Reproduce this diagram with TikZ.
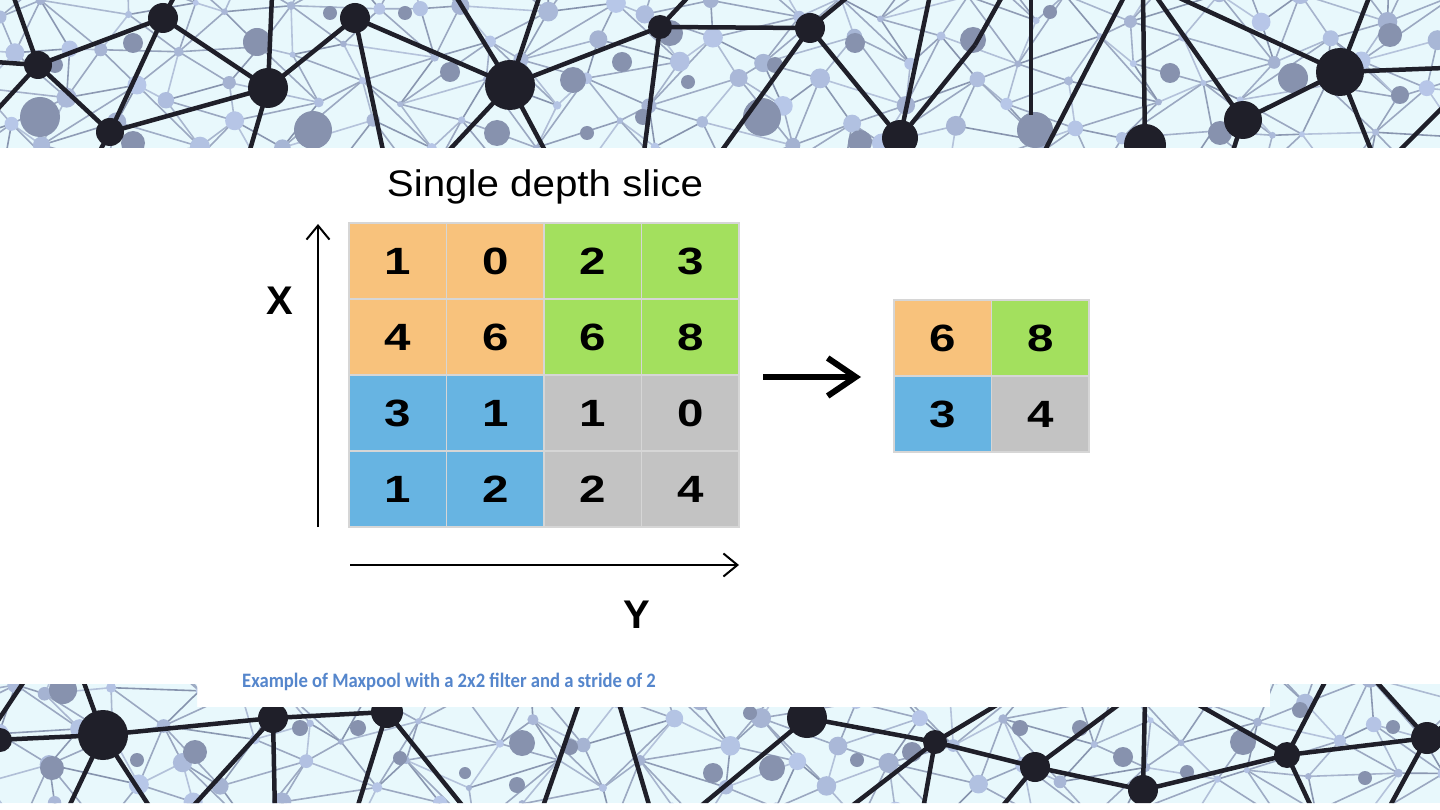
\documentclass[tikz,border=0pt]{standalone}
\usepackage{fontspec}
\setmainfont{Liberation Sans}
\newfontfamily\digitfont[FakeStretch=1.25]{Liberation Sans}
\newfontfamily\titlefont[FakeStretch=1.09]{Liberation Sans}
\newfontfamily\capfont[FakeStretch=0.91]{Carlito}
\usetikzlibrary{arrows.meta}
\definecolor{bandbg}{HTML}{E8F8FC}
\definecolor{glight}{HTML}{B8C6DE}
\definecolor{gdark}{HTML}{8390AA}
\definecolor{lightn}{HTML}{B7C7E8}
\definecolor{midn}{HTML}{8792AE}
\definecolor{darkn}{HTML}{1F1F29}
\definecolor{cor}{HTML}{F8C27C}
\definecolor{cgr}{HTML}{A3E05E}
\definecolor{cbl}{HTML}{67B4E2}
\definecolor{cgy}{HTML}{C3C3C3}
\definecolor{cellline}{HTML}{D6D6D6}
\definecolor{capblue}{HTML}{5586CC}
\newcommand{\netmesh}[2]{%
  \foreach \i in {-1,...,24}{
    \foreach \j in {-1,...,3}{
      \pgfmathsetmacro\ax{\i*60+jx(\i+#2,\j)}
      \pgfmathsetmacro\ay{#1+\j*42+jy(\i+#2,\j)}
      \pgfmathsetmacro\bx{(\i+1)*60+jx(\i+1+#2,\j)}
      \pgfmathsetmacro\by{#1+\j*42+jy(\i+1+#2,\j)}
      \pgfmathsetmacro\cx{\i*60+jx(\i+#2,\j+1)}
      \pgfmathsetmacro\cy{#1+(\j+1)*42+jy(\i+#2,\j+1)}
      \pgfmathsetmacro\dx{(\i+1)*60+jx(\i+1+#2,\j+1)}
      \pgfmathsetmacro\dy{#1+(\j+1)*42+jy(\i+1+#2,\j+1)}
      \pgfmathtruncatemacro\sa{50+45*sin(\i*211.3+\j*97.1+#2*13)}
      \pgfmathtruncatemacro\sb{50+45*sin(\i*123.7+\j*277.1+#2*29)}
      \pgfmathtruncatemacro\pick{sin(\i*77.7+\j*133.3+#2*7)>0 ? 1 : 0}
      \draw[gline, draw=gdark!\sa!glight] (\ax,\ay) -- (\bx,\by);
      \draw[gline, draw=gdark!\sb!glight] (\ax,\ay) -- (\cx,\cy);
      \ifnum\pick=1
        \draw[gline] (\ax,\ay) -- (\dx,\dy);
      \else
        \draw[gline] (\bx,\by) -- (\cx,\cy);
      \fi
    }
  }
  \foreach \i in {-1,...,24}{
    \foreach \j in {-1,...,3}{
      \pgfmathsetmacro\ax{\i*60+jx(\i+#2,\j)}
      \pgfmathsetmacro\ay{#1+\j*42+jy(\i+#2,\j)}
      \pgfmathsetmacro\rr{3+3.5*(1+sin(\i*331.7+\j*57.3+#2*11))}
      \pgfmathtruncatemacro\sc{20*(1+sin(\i*97.7+\j*211.3+#2*5))}
      \fill[midn!\sc!lightn] (\ax,\ay) circle[radius=\rr*1pt];
    }
  }
}
\begin{document}
\begin{tikzpicture}[x=1pt,y=-1pt,
  declare function={jx(\a,\b)=20*sin(\a*257.3+\b*491.7); jy(\a,\b)=14*sin(\a*173.9+\b*331.1+40);},
  gline/.style={line width=1.6pt, draw=gdark!55!glight},
  dline/.style={line width=4.5pt, draw=darkn},
  cell/.style={draw=cellline, line width=1.2pt, minimum width=97.5pt, minimum height=76pt,
    inner sep=0pt, anchor=center, font={\digitfont\bfseries\fontsize{38}{38}\selectfont}},
  axis/.style={line width=2pt, -{Straight Barb[length=14pt,width=23pt,line width=2pt]}},
  bigarrow/.style={line width=6pt, -{Straight Barb[length=28pt,width=38pt,line width=6pt]}},
  axlabel/.style={inner sep=0pt, anchor=base, font={\bfseries\fontsize{40}{40}\selectfont}}]
\useasboundingbox (0,0) rectangle (1440,810);
\fill[white] (0,0) rectangle (1440,810);
% ---------- top band ----------
\begin{scope}
  \clip (0,0) rectangle (1440,148);
  \fill[bandbg] (0,0) rectangle (1440,148);
  \netmesh{8}{0}
  \foreach \x/\y/\r in {40/117/20, 313/130/19, 133/43/10, 257/42/14, 133/143/12, 450/72/10,
    405/13/7, 330/13/7, 497/133/13, 573/80/13, 670/33/13, 622/62/10, 762/117/19, 855/43/10,
    775/65/8, 688/82/7, 643/117/8, 587/133/7, 860/142/12, 973/40/13, 1035/130/18, 1293/78/15,
    1390/35/12, 1170/73/10, 1220/133/12, 1050/12/7, 55/65/8, 1400/95/9}
    \fill[midn] (\x,\y) circle[radius=\r*1pt];
  \foreach \a/\b/\c/\d in {-5/62/38/65, 13/-5/38/65, 38/65/-5/112, 38/65/163/18, 38/65/110/132,
    163/18/268/88, 163/18/175/-5, 110/132/268/88, 110/132/163/18, 110/132/95/160,
    268/88/247/160, 268/88/272/-5, 268/88/355/18, 355/18/385/160, 355/18/510/85,
    455/-5/510/85, 510/85/440/160, 510/85/540/-5, 510/85/660/27, 510/85/550/160,
    660/27/690/-5, 660/27/810/28, 660/27/643/160, 810/28/850/-5, 810/28/900/138,
    810/28/715/160, 900/138/930/-5, 900/138/975/45, 1003/-5/975/45, 1031/-5/1031/115,
    1143/-5/1145/145, 1040/160/1125/-5, 1155/-5/1243/120, 1173/-5/1340/72,
    1340/72/1370/-5, 1340/72/1445/68, 1340/72/1243/120, 1340/72/1375/160,
    1445/105/1390/160, 1243/120/1230/160}
    \draw[dline] (\a,\b) -- (\c,\d);
  \foreach \x/\y/\r in {38/65/14, 163/18/15, 110/132/14, 268/88/20, 355/18/15, 510/85/25,
    660/27/12, 810/28/15, 900/138/18, 1145/145/21, 1243/120/19, 1340/72/24}
    \fill[darkn] (\x,\y) circle[radius=\r*1pt];
\end{scope}
% ---------- bottom band ----------
\begin{scope}
  \clip (0,684) -- (197,684) -- (197,707) -- (1270,707) -- (1270,684) -- (1440,684)
    -- (1440,803) -- (0,803) -- cycle;
  \fill[bandbg] (0,684) rectangle (1440,803);
  \netmesh{690}{3}
  \foreach \x/\y/\r in {52/768/12, 195/752/12, 63/690/14, 300/728/8, 358/728/8, 137/760/7,
    522/743/13, 570/747/8, 400/758/7, 517/785/8, 465/773/6, 713/773/10, 772/768/13,
    912/752/10, 715/772/7, 857/760/7, 1020/728/8, 1080/728/8, 750/713/7, 1123/757/10,
    1243/742/13, 1365/778/7, 1393/727/7, 1300/710/8, 1187/772/7}
    \fill[midn] (\x,\y) circle[radius=\r*1pt];
  \foreach \a/\b/\c/\d in {-5/740/103/735, 103/735/273/718, 273/718/387/712, 103/735/83/680,
    103/735/155/815, 103/735/65/815, 25/680/-5/725, 273/718/275/815, 273/718/185/815,
    387/712/355/815, 387/712/470/815, 580/700/540/815, 618/700/652/815,
    807/718/935/742, 807/718/690/815, 807/718/795/700, 935/742/1005/700, 935/742/1035/767,
    935/742/922/815, 840/815/935/742, 1035/767/1125/700, 1035/767/995/815,
    1035/767/1143/790, 1143/790/1287/755, 1143/790/1145/700, 1287/755/1327/678,
    1287/755/1427/738, 1287/755/1315/815, 1190/700/1287/755, 1427/738/1373/678,
    1427/738/1385/815, 1427/738/1445/725}
    \draw[dline] (\a,\b) -- (\c,\d);
  \foreach \x/\y/\r in {0/740/12, 103/735/25, 273/718/15, 387/712/16, 807/718/20, 935/742/12,
    1035/767/15, 1143/790/15, 1287/755/13, 1427/738/16}
    \fill[darkn] (\x,\y) circle[radius=\r*1pt];
\end{scope}
% ---------- input grid ----------
\node[cell, fill=cor] (a11) at (397.75,261) {1};
\node[cell, fill=cor] (a12) at (495.25,261) {0};
\node[cell, fill=cgr] (a13) at (592.75,261) {2};
\node[cell, fill=cgr] (a14) at (690.25,261) {3};
\node[cell, fill=cor] (a21) at (397.75,337) {4};
\node[cell, fill=cor] (a22) at (495.25,337) {6};
\node[cell, fill=cgr] (a23) at (592.75,337) {6};
\node[cell, fill=cgr] (a24) at (690.25,337) {8};
\node[cell, fill=cbl] (a31) at (397.75,413) {3};
\node[cell, fill=cbl] (a32) at (495.25,413) {1};
\node[cell, fill=cgy] (a33) at (592.75,413) {1};
\node[cell, fill=cgy] (a34) at (690.25,413) {0};
\node[cell, fill=cbl] (a41) at (397.75,489) {1};
\node[cell, fill=cbl] (a42) at (495.25,489) {2};
\node[cell, fill=cgy] (a43) at (592.75,489) {2};
\node[cell, fill=cgy] (a44) at (690.25,489) {4};
% ---------- output grid ----------
\node[cell, fill=cor] (b11) at (942.75,338) {6};
\node[cell, fill=cgr] (b12) at (1040.25,338) {8};
\node[cell, fill=cbl] (b21) at (942.75,414) {3};
\node[cell, fill=cgy] (b22) at (1040.25,414) {4};
% ---------- labels ----------
\node[inner sep=0pt, anchor=base] (title) at (545,197)
  {\titlefont\fontsize{37}{37}\selectfont Single depth slice};
\node[axlabel] (xl) at (280,314) {X};
\node[axlabel] (yl) at (637,628) {Y};
\node[inner sep=0pt, anchor=base west, text=capblue] (cap) at (242,687)
  {\capfont\bfseries\fontsize{20.5}{20.5}\selectfont Example of Maxpool with a 2x2 filter and a stride of 2};
% ---------- arrows ----------
\coordinate (xb) at (318,527);
\coordinate (xt) at (318,224);
\coordinate (yb) at (350,565);
\coordinate (yt) at (739,565);
\coordinate (as) at (763,377);
\coordinate (ae) at (861,377);
\draw[axis] (xb) -- (xt);
\draw[axis] (yb) -- (yt);
\draw[bigarrow] (as) -- (ae);
\end{tikzpicture}
\end{document}
